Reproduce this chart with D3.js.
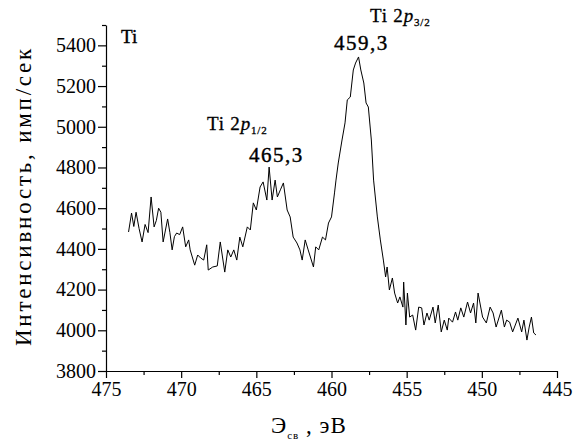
<!DOCTYPE html>
<html>
<head>
<meta charset="utf-8">
<script src="https://cdn.jsdelivr.net/npm/d3@7"></script>
<style>
  body { margin: 0; background: #fff; }
</style>
</head>
<body>
<div id="chart"></div>
<script>
// Ti 2p XPS spectrum
const energy = [
  473.5, 473.3, 473.15, 473.0, 472.8, 472.6, 472.4, 472.2, 472.0, 471.8,
  471.65, 471.5, 471.35, 471.2, 470.9, 470.75, 470.6, 470.45, 470.3, 470.1,
  469.9, 469.7, 469.5, 469.4, 469.1, 468.9, 468.7, 468.5, 468.3, 468.2,
  467.9, 467.6, 467.4, 467.1, 466.9, 466.7, 466.5, 466.3, 466.1, 465.9,
  465.6, 465.4, 465.2, 465.0, 464.75, 464.55, 464.3, 464.15, 463.95, 463.75,
  463.6, 463.4, 463.2, 462.95, 462.75, 462.55, 462.3, 462.1, 461.95, 461.75,
  461.55, 461.2, 461.05, 460.85, 460.6, 460.4, 460.2, 460.0, 459.8, 459.7,
  459.55, 459.3, 459.1, 458.95, 458.75, 458.55, 458.4, 458.2, 458.05, 457.85,
  457.7, 457.55, 457.35, 457.2, 456.95, 456.75, 456.55, 456.4, 456.3, 456.15,
  455.95, 455.8, 455.6, 455.45, 455.25, 455.2, 455.05, 454.95, 454.8, 454.6,
  454.4, 454.2, 454.0, 453.85, 453.65, 453.5, 453.25, 453.1, 452.9, 452.7,
  452.5, 452.3, 452.2, 451.95, 451.75, 451.6, 451.4, 451.2, 450.95, 450.75,
  450.55, 450.4, 450.25, 449.95, 449.7, 449.45, 449.25, 449.05, 448.7, 448.5,
  448.35, 448.15, 447.95, 447.6, 447.35, 447.2, 447.0, 446.85, 446.7, 446.55,
  446.4
];
const intensity = [
  4483, 4576, 4510, 4580, 4500, 4434, 4520, 4480, 4655, 4508,
  4540, 4600, 4580, 4434, 4547, 4480, 4395, 4460, 4478, 4470,
  4508, 4410, 4444, 4395, 4320, 4370, 4355, 4345, 4420, 4296,
  4311, 4316, 4434, 4286, 4395, 4360, 4395, 4345, 4458, 4410,
  4508, 4493, 4626, 4591, 4704, 4729, 4640, 4802, 4640, 4738,
  4655, 4690, 4724, 4591, 4557, 4458, 4429, 4395, 4345, 4444,
  4395, 4311, 4410, 4395, 4458, 4444, 4527, 4557, 4675, 4738,
  4822, 4935, 5019, 5132, 5146, 5279, 5313, 5343, 5279, 5215,
  5117, 5097, 4935, 4738, 4557, 4444, 4345, 4262, 4311, 4198,
  4257, 4183, 4134, 4164, 4114, 4237, 4026, 4183, 4065, 4075,
  4001, 4114, 4110, 4026, 4085, 4050, 4114, 4036, 4124, 3992,
  4050, 4001, 4060, 4040, 4090, 4050, 4110, 4065, 4139, 4085,
  4134, 4036, 4183, 4065, 4036, 4114, 4085, 4016, 4099, 4016,
  4050, 4040, 3992, 4060, 3992, 4050, 3952, 4016, 4065, 3987,
  3977
];
const xTicks = [475, 470, 465, 460, 455, 450, 445];
const xMinor = [472.5, 467.5, 462.5, 457.5, 452.5, 447.5];
const yTicks = [3800, 4000, 4200, 4400, 4600, 4800, 5000, 5200, 5400];
const yMinor = [3900, 4100, 4300, 4500, 4700, 4900, 5100, 5300, 5500];

const width = 576;
const height = 443;
const margin = { top: 25, right: 19, bottom: 72, left: 106 };
const font = "Liberation Serif";

const x = d3.scaleLinear()
  .domain([475, 445])
  .range([margin.left, width - margin.right]);

const y = d3.scaleLinear()
  .domain([3800, 5500])
  .range([height - margin.bottom, margin.top]);

const svg = d3.select("#chart")
  .append("svg")
  .attr("width", width)
  .attr("height", height)
  .attr("font-family", font);

// x axis
svg.append("g")
  .attr("transform", `translate(0, ${height - margin.bottom})`)
  .call(d3.axisBottom(x).tickValues(xTicks).tickFormat(d3.format("d"))
    .tickSize(7).tickPadding(4).tickSizeOuter(0));
svg.append("g")
  .attr("transform", `translate(0, ${height - margin.bottom})`)
  .call(d3.axisBottom(x).tickValues(xMinor).tickSize(4).tickFormat("").tickSizeOuter(0))
  .select(".domain").remove();

// y axis
svg.append("g")
  .attr("transform", `translate(${margin.left}, 0)`)
  .call(d3.axisLeft(y).tickValues(yTicks).tickFormat(d3.format("d"))
    .tickSize(8).tickPadding(2).tickSizeOuter(0));
svg.append("g")
  .attr("transform", `translate(${margin.left}, 0)`)
  .call(d3.axisLeft(y).tickValues(yMinor).tickSize(4).tickFormat("").tickSizeOuter(0))
  .select(".domain").remove();

// the axes put a sans-serif font on their groups; drop it
svg.selectAll("g").attr("font-family", null).attr("font-size", null);
svg.selectAll(".tick text")
  .attr("fill", "#000")
  .attr("font-size", 20);
svg.selectAll(".domain, .tick line")
  .attr("stroke", "#000")
  .attr("stroke-width", 1.2);

// spectrum line
const line = d3.line()
  .x((d, i) => x(energy[i]))
  .y(d => y(d));

svg.append("path")
  .datum(intensity)
  .attr("fill", "none")
  .attr("stroke", "#000")
  .attr("stroke-width", 1)
  .attr("d", line);

// widen a text to the length it has in the reference by spacing its letters
function spreadTo(sel, target) {
  const node = sel.node();
  const n = node.getNumberOfChars();
  const w = node.getComputedTextLength();
  sel.attr("letter-spacing", ((target - w) / n).toFixed(2));
}

// axis titles
const yt = svg.append("text")
  .attr("transform", "rotate(-90)")
  .attr("x", -196)
  .attr("y", 31)
  .attr("text-anchor", "middle")
  .attr("font-size", 23)
  .text("Интенсивность, имп/сек");
spreadTo(yt, 300);

const xt = svg.append("text")
  .attr("x", 271)
  .attr("y", 433)
  .attr("font-size", 23)
  .attr("letter-spacing", 1);
xt.append("tspan").text("Э");
xt.append("tspan").attr("dy", 6).attr("font-size", 11).text("св");
xt.append("tspan").attr("dy", -6).text(" , эВ");

// annotations
svg.append("text")
  .attr("x", 121)
  .attr("y", 43)
  .attr("font-size", 19)
  .attr("stroke", "#000")
  .attr("stroke-width", 0.4)
  .text("Ti");

function peakLabel(px, py, sub) {
  const t = svg.append("text")
    .attr("x", px)
    .attr("y", py)
    .attr("font-size", 19)
    .attr("letter-spacing", 0.8)
    .attr("stroke", "#000")
    .attr("stroke-width", 0.3);
  t.append("tspan").text("Ti 2");
  t.append("tspan").attr("font-style", "italic").text("p");
  t.append("tspan").attr("dy", 4).attr("font-size", 11).text(sub);
}
peakLabel(207, 130, "1/2");
peakLabel(370, 22, "3/2");

svg.append("text")
  .attr("x", 249)
  .attr("y", 162)
  .attr("font-size", 21)
  .attr("letter-spacing", 1.5)
  .attr("stroke", "#000")
  .attr("stroke-width", 0.4)
  .text("465,3");

svg.append("text")
  .attr("x", 334)
  .attr("y", 50)
  .attr("font-size", 21)
  .attr("letter-spacing", 1.5)
  .attr("stroke", "#000")
  .attr("stroke-width", 0.4)
  .text("459,3");
</script>
</body>
</html>
